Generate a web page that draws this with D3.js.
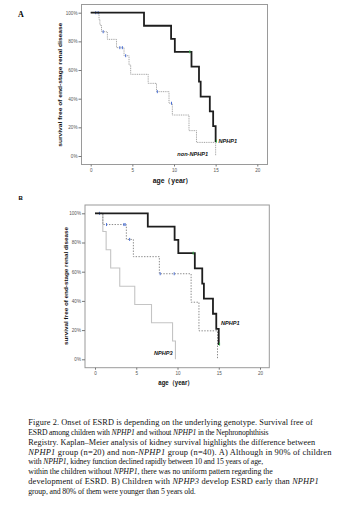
<!DOCTYPE html>
<html><head><meta charset="utf-8">
<script src="https://cdn.jsdelivr.net/npm/d3@7"></script>
<style>
html,body{margin:0;padding:0;background:#fff;}
svg{display:block;}
</style></head>
<body>
<script>
// ---------- DATA ----------
const ageTicks = [0, 5, 10, 15, 20];
const survTicks = [0, 20, 40, 60, 80, 100];

// NPHP1 (both panels)
const nphp1Time = [0, 6.4, 9.65, 10.1, 12.1, 13.0, 13.2, 14.3, 14.7, 15.0, 15.1];
const nphp1Surv = [100, 90.9, 81.8, 72.7, 62.3, 51.9, 41.5, 31.2, 20.8, 10.4, 10.4];
const nphp1CensorTime = [11.9, 15.1];
const nphp1CensorSurv = [72.7, 10.4];

// non-NPHP1 (panel A)
const nonTime = [0, 1.0, 1.1, 1.3, 2.0, 3.1, 4.0, 4.6, 4.8, 6.9, 7.9, 9.4, 9.8, 11.8, 12.7, 15.0];
const nonSurv = [100, 95.3, 91.4, 86.7, 81.4, 75.6, 70.0, 63.5, 57.0, 50.7, 44.9, 36.8, 28.6, 17.7, 9.5, 0];
const nonCensorTime = [0.6, 0.9, 1.5, 3.5, 3.8, 4.2, 8.0, 9.7];
const nonCensorSurv = [100, 100, 86.7, 75.6, 75.6, 70.0, 44.9, 36.8];

// other genotypes (panel B, dotted)
const otherTime = [0, 0.95, 3.8, 4.65, 7.8, 11.65, 12.6, 14.85];
const otherSurv = [100, 92.3, 82.1, 70.3, 58.6, 39.1, 19.5, 0];
const otherCensorTime = [0.55, 1.4, 3.5, 3.65, 4.2, 7.9, 9.6];
const otherCensorSurv = [100, 92.3, 92.3, 92.3, 82.1, 58.6, 58.6];

// NPHP3 (panel B)
const nphp3Time = [0, 0.95, 1.35, 1.9, 3.0, 4.82, 6.85, 9.4, 9.75];
const nphp3Surv = [100, 87.5, 75, 62.5, 50, 37.5, 25, 12.5, 0];

const yTitle = "survival free of end-stage renal disease";
const xTitle = "age\uFF08year\uFF09";

const captionLines = [
  [["Figure 2. Onset of ESRD is depending on the underlying genotype. Survival free of", 0]],
  [["ESRD among children with ", 0], ["NPHP1", 1], [" and without ", 0], ["NPHP1", 1], [" in the Nephronophthisis", 0]],
  [["Registry. Kaplan\u2013Meier analysis of kidney survival highlights the difference between", 0]],
  [["NPHP1", 1], [" group (n=20) and non-", 0], ["NPHP1", 1], [" group (n=40). A) Although in 90% of children", 0]],
  [["with ", 0], ["NPHP1,", 1], [" kidney function declined rapidly between 10 and 15 years of age,", 0]],
  [["within the children without ", 0], ["NPHP1", 1], [", there was no uniform pattern regarding the", 0]],
  [["development of ESRD. B) Children with ", 0], ["NPHP3", 1], [" develop ESRD early than ", 0], ["NPHP1", 1]],
  [["group, and 80% of them were younger than 5 years old.", 0]]
];
const captionRight = [313.3, 268.3, 315.7, 332.3, 263.3, 272.7, 319, 196];

// ---------- DRAW ----------
const svg = d3.select("body").append("svg").attr("width", 337).attr("height", 518);
svg.append("rect").attr("width", 337).attr("height", 518).attr("fill", "#fff");

const zip = (t, s) => t.map((d, i) => [d, s[i]]);

function drawPanel(g, p) {
  const x = d3.scaleLinear().domain([0, 20]).range([p.x0, p.x20]);
  const y = d3.scaleLinear().domain([0, 100]).range([p.y0, p.y100]);

  g.append("rect").attr("x", p.left).attr("y", p.top)
    .attr("width", p.right - p.left).attr("height", p.bottom - p.top)
    .attr("fill", "none").attr("stroke", "#9a9a9a").attr("stroke-width", 1);

  const ya = g.append("g").attr("transform", `translate(${p.left},0)`)
    .call(d3.axisLeft(y).tickValues(survTicks).tickFormat(d => d + "%").tickSize(3).tickPadding(1));
  const xa = g.append("g").attr("transform", `translate(0,${p.bottom})`)
    .call(d3.axisBottom(x).tickValues(ageTicks).tickSize(2).tickPadding(2));
  [ya, xa].forEach(a => {
    a.select(".domain").remove();
    a.selectAll("line").attr("stroke", "#777");
    a.selectAll("text").attr("font-family", "Liberation Sans, Arial, sans-serif")
      .attr("font-size", 4.6).attr("fill", "#555");
  });

  const line = d3.line().x(d => x(d[0])).y(d => y(d[1])).curve(d3.curveStepAfter);

  p.series.forEach(s => {
    g.append("path").datum(zip(s.t, s.s)).attr("d", line)
      .attr("fill", "none").attr("stroke", s.color).attr("stroke-width", s.w)
      .attr("stroke-dasharray", s.dash || null);
    if (s.ct) {
      g.selectAll(null).data(zip(s.ct, s.cs)).enter().append("line")
        .attr("x1", d => x(d[0])).attr("x2", d => x(d[0]))
        .attr("y1", d => y(d[1]) - 1.5).attr("y2", d => y(d[1]) + 1.5)
        .attr("stroke", s.ccolor).attr("stroke-width", 1);
    }
  });

  p.labels.forEach(l => {
    g.append("text").attr("x", l.x).attr("y", l.y).text(l.text)
      .attr("font-family", "Liberation Sans, Arial, sans-serif").attr("font-size", 5.6)
      .attr("font-weight", "bold").attr("font-style", "italic").attr("fill", "#111");
  });

  g.append("text").attr("x", p.xtx).attr("y", p.xty).attr("text-anchor", "middle")
    .attr("font-family", "Liberation Sans, Arial, sans-serif").attr("font-size", 7)
    .attr("font-weight", "bold").attr("fill", "#111")
    .attr("textLength", p.xtl).attr("lengthAdjust", "spacingAndGlyphs").text(xTitle);

  g.append("text").attr("transform", `translate(${p.ytx},${p.yty}) rotate(-90)`)
    .attr("text-anchor", "middle")
    .attr("font-family", "Liberation Sans, Arial, sans-serif").attr("font-size", 6)
    .attr("font-weight", "bold").attr("fill", "#111")
    .attr("textLength", p.ytl).attr("lengthAdjust", "spacingAndGlyphs").text(yTitle);
}

const black = {color: "#1e1e1e", w: 1.8, t: nphp1Time, s: nphp1Surv, ct: nphp1CensorTime, cs: nphp1CensorSurv, ccolor: "#37b24d"};

drawPanel(svg.append("g"), {
  left: 81.5, top: 4.5, right: 267.5, bottom: 164.5,
  x0: 90.7, x20: 257.3, y100: 12.7, y0: 156,
  series: [
    {color: "#a0a0a0", w: 1, dash: "1,0.8", t: nonTime, s: nonSurv, ct: nonCensorTime, cs: nonCensorSurv, ccolor: "#4a6fd6"},
    black
  ],
  labels: [{text: "NPHP1", x: 218.5, y: 143}, {text: "non-NPHP1", x: 177.3, y: 156}],
  xtx: 172.5, xty: 182.5, xtl: 39.6,
  ytx: 61.5, yty: 84.7, ytl: 124
});

drawPanel(svg.append("g"), {
  left: 85, top: 205, right: 269.3, bottom: 367.7,
  x0: 95, x20: 260, y100: 213.3, y0: 359.3,
  series: [
    {color: "#c4c4c4", w: 1.1, t: nphp3Time, s: nphp3Surv},
    {color: "#8a8a8a", w: 1, dash: "1.4,1.4", t: otherTime, s: otherSurv, ct: otherCensorTime, cs: otherCensorSurv, ccolor: "#4a6fd6"},
    black
  ],
  labels: [{text: "NPHP1", x: 221, y: 325.3}, {text: "NPHP3", x: 154, y: 354.7}],
  xtx: 175.8, xty: 384.5, xtl: 35,
  ytx: 68.2, yty: 286, ytl: 118
});

// panel letters
svg.append("text").attr("x", 18).attr("y", 17).text("A")
  .attr("font-family", "Liberation Serif, serif").attr("font-size", 8).attr("font-weight", "bold");
svg.append("text").attr("x", 18.5).attr("y", 200).text("B")
  .attr("font-family", "Liberation Sans, sans-serif").attr("font-size", 6).attr("font-weight", "bold");

// caption: split width correction between spacing and glyph width
const capLeft = 28.3, capTop = 425, capStep = 9.85;
captionLines.forEach((parts, i) => {
  const t = svg.append("text").attr("x", 0).attr("y", 0)
    .attr("font-family", "Liberation Serif, 'Times New Roman', serif")
    .attr("font-size", 8.1).attr("fill", "#111");
  parts.forEach(pt => {
    t.append("tspan").text(pt[0]).attr("font-style", pt[1] ? "italic" : "normal");
  });
  const w = t.node().getComputedTextLength();
  const n = parts.reduce((a, pt) => a + pt[0].length, 0);
  const target = captionRight[i] - capLeft;
  const mid = w * Math.sqrt(target / w);
  const ls = (mid - w) / n;
  t.attr("letter-spacing", ls.toFixed(3));
  const s = target / (w + ls * n);
  t.attr("transform", `translate(${capLeft},${capTop + i * capStep}) scale(${s.toFixed(4)},1)`);
});
</script>
</body></html>
